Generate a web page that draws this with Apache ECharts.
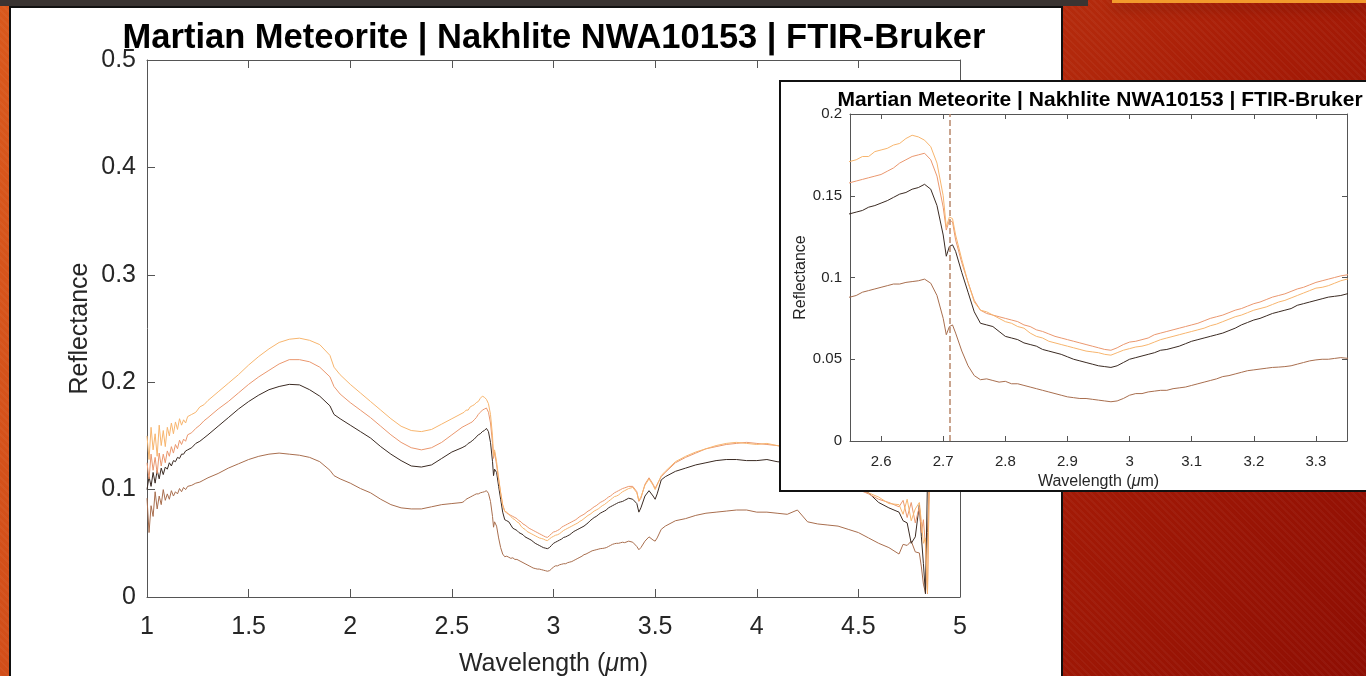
<!DOCTYPE html>
<html>
<head>
<meta charset="utf-8">
<title>Martian Meteorite | Nakhlite NWA10153 | FTIR-Bruker</title>
<script src="https://cdn.jsdelivr.net/npm/echarts@6/dist/echarts.min.js"></script>
<style>
  html, body { margin: 0; padding: 0; width: 1366px; height: 676px; overflow: hidden; }
  #slide {
    position: relative; width: 1366px; height: 676px; overflow: hidden;
    background:
      repeating-linear-gradient(45deg, rgba(255,255,255,0.035) 0 2px, rgba(0,0,0,0) 2px 5px),
      linear-gradient(120deg, #d9581c 0%, #cc4617 40%, #a81d07 72%, #8e0e03 100%);
  }
  .topbar { position: absolute; left: 0; top: 0; width: 1088px; height: 6px; background: #3a3432; }
  .toptab { position: absolute; left: 1112px; top: 0; width: 254px; height: 3px; background: #f29a2c;
            box-shadow: 0 5px 12px rgba(0,0,0,0.35); }
  .panel { position: absolute; left: 9px; top: 6px; width: 1054px; height: 690px; background: #fff;
           border: 2px solid #111; box-sizing: border-box; }
  #main { position: absolute; left: 0; top: 0; width: 1366px; height: 676px; }
  .inset-box { position: absolute; left: 779px; top: 80px; width: 600px; height: 412px; background: #fff;
               border: 2px solid #111; box-sizing: border-box; }
  #inset { position: absolute; left: 0; top: 0; width: 596px; height: 408px; }
</style>
</head>
<body>
<div id="slide">
  <div class="topbar"></div>
  <div class="toptab"></div>
  <div class="panel"></div>
  <div id="main"></div>
  <div class="inset-box"><div id="inset"></div></div>
</div>
<script>
// wavelength grid (um) - finer around the 2.7 um feature shown in the zoom
const wavelength = [
  1.00, 1.01, 1.02, 1.03, 1.04, 1.05, 1.06, 1.07, 1.08, 1.09, 1.10,
  1.11, 1.12, 1.13, 1.14, 1.15, 1.16, 1.17, 1.18, 1.19, 1.20,
  1.22, 1.24, 1.26, 1.28, 1.30,
  1.35, 1.40, 1.45, 1.50, 1.55, 1.60, 1.65, 1.70, 1.75, 1.80,
  1.85, 1.90, 1.92, 1.95, 2.00, 2.05, 2.10, 2.15, 2.20, 2.25,
  2.30, 2.35, 2.40, 2.45, 2.50, 2.55,
  2.56, 2.57, 2.58, 2.59, 2.60, 2.61, 2.62, 2.63, 2.64, 2.65,
  2.66, 2.67, 2.68, 2.69, 2.70, 2.705, 2.71, 2.715, 2.72, 2.73,
  2.74, 2.75, 2.76, 2.77, 2.78, 2.79, 2.80, 2.81, 2.82, 2.83,
  2.84, 2.85, 2.86, 2.87, 2.88, 2.89, 2.90, 2.91, 2.92, 2.93,
  2.94, 2.95, 2.96, 2.97, 2.98, 2.99, 3.00, 3.01, 3.02, 3.03,
  3.04, 3.05, 3.06, 3.07, 3.08, 3.09, 3.10, 3.11, 3.12, 3.13,
  3.14, 3.15, 3.16, 3.17, 3.18, 3.19, 3.20, 3.21, 3.22, 3.23,
  3.24, 3.25, 3.26, 3.27, 3.28, 3.29, 3.30, 3.31, 3.32, 3.33,
  3.34, 3.35,
  3.37, 3.39, 3.41, 3.42, 3.43, 3.45, 3.47, 3.49, 3.50, 3.51,
  3.53, 3.55, 3.60, 3.65, 3.70, 3.75, 3.80, 3.85, 3.90, 3.95,
  4.00, 4.05, 4.10, 4.15, 4.20, 4.25, 4.30, 4.35, 4.40, 4.45,
  4.50, 4.55, 4.60, 4.65, 4.70, 4.72, 4.74, 4.76, 4.78, 4.80,
  4.81, 4.82, 4.83, 4.84, 4.85
]

// reflectance spectra
const spotPeach = [
  0.150, 0.128, 0.158, 0.137, 0.152, 0.131, 0.160, 0.141, 0.155, 0.140, 0.158,
  0.150, 0.162, 0.152, 0.163, 0.156, 0.166, 0.160, 0.165, 0.162, 0.168,
  0.170, 0.172, 0.177, 0.179, 0.183,
  0.191, 0.199, 0.207, 0.216, 0.224, 0.231, 0.237, 0.240, 0.241, 0.239,
  0.235, 0.225, 0.214, 0.207, 0.198, 0.190, 0.182, 0.174, 0.166, 0.159,
  0.155, 0.154, 0.156, 0.161, 0.166, 0.171,
  0.172, 0.174, 0.174, 0.177, 0.178, 0.179, 0.181, 0.182, 0.185, 0.187,
  0.186, 0.184, 0.180, 0.170, 0.150, 0.131, 0.137, 0.136, 0.126, 0.111,
  0.097, 0.085, 0.080, 0.079, 0.077, 0.075, 0.073, 0.072, 0.070, 0.069,
  0.066, 0.064, 0.063, 0.061, 0.060, 0.059, 0.058, 0.057, 0.056, 0.055,
  0.0545, 0.054, 0.053, 0.0525, 0.054, 0.0555, 0.0565, 0.0575, 0.058, 0.059,
  0.0605, 0.062, 0.063, 0.064, 0.065, 0.066, 0.067, 0.068, 0.069, 0.0705,
  0.0715, 0.073, 0.0745, 0.076, 0.077, 0.0785, 0.080, 0.081, 0.082, 0.0835,
  0.085, 0.086, 0.0875, 0.089, 0.0905, 0.092, 0.0935, 0.094, 0.095, 0.0965,
  0.098, 0.099,
  0.101, 0.102, 0.097, 0.090, 0.093, 0.104, 0.110, 0.104, 0.100, 0.104,
  0.113, 0.117, 0.126, 0.131, 0.135, 0.138, 0.141, 0.143, 0.144, 0.143,
  0.142, 0.143, 0.141, 0.140, 0.137, 0.133, 0.128, 0.122, 0.115, 0.108,
  0.102, 0.097, 0.093, 0.087, 0.086, 0.077, 0.091, 0.071, 0.082, 0.088,
  0.070, 0.050, 0.055, 0.004, 0.120
]
const spotSalmon = [
  0.125, 0.110, 0.133, 0.118, 0.130, 0.115, 0.134, 0.122, 0.133, 0.125, 0.136,
  0.131, 0.140, 0.134, 0.142, 0.138, 0.146, 0.142, 0.147, 0.145, 0.151,
  0.153, 0.157, 0.160, 0.164, 0.167,
  0.175, 0.182, 0.190, 0.198, 0.205, 0.211, 0.217, 0.221, 0.221, 0.219,
  0.214, 0.205, 0.196, 0.189, 0.181, 0.174, 0.167, 0.159, 0.151, 0.144,
  0.139, 0.137, 0.139, 0.144, 0.151, 0.158,
  0.159, 0.160, 0.161, 0.162, 0.163, 0.165, 0.167, 0.170, 0.172, 0.174,
  0.175, 0.176, 0.172, 0.162, 0.143, 0.129, 0.135, 0.134, 0.123, 0.109,
  0.097, 0.086, 0.080, 0.078, 0.077, 0.076, 0.075, 0.074, 0.073, 0.071,
  0.070, 0.068, 0.067, 0.0655, 0.064, 0.063, 0.062, 0.061, 0.060, 0.059,
  0.058, 0.057, 0.056, 0.0555, 0.057, 0.059, 0.0605, 0.061, 0.062, 0.063,
  0.065, 0.066, 0.067, 0.068, 0.069, 0.070, 0.071, 0.072, 0.0735, 0.075,
  0.076, 0.077, 0.0785, 0.080, 0.081, 0.0825, 0.084, 0.085, 0.0865, 0.088,
  0.089, 0.090, 0.0915, 0.093, 0.094, 0.0955, 0.097, 0.098, 0.099, 0.100,
  0.101, 0.1016,
  0.103, 0.103, 0.098, 0.089, 0.092, 0.105, 0.111, 0.105, 0.101, 0.105,
  0.112, 0.116, 0.125, 0.130, 0.134, 0.138, 0.140, 0.142, 0.143, 0.144,
  0.143, 0.142, 0.141, 0.139, 0.136, 0.132, 0.127, 0.121, 0.114, 0.107,
  0.100, 0.096, 0.091, 0.088, 0.084, 0.090, 0.074, 0.088, 0.069, 0.084,
  0.060, 0.072, 0.048, 0.003, 0.120
]
const spotDark = [
  0.100, 0.112, 0.103, 0.116, 0.106, 0.118, 0.110, 0.120, 0.114, 0.121, 0.119,
  0.125, 0.122, 0.127, 0.126, 0.130, 0.129, 0.133, 0.133, 0.136, 0.137,
  0.139, 0.143, 0.145, 0.148, 0.151,
  0.159, 0.167, 0.175, 0.182, 0.188, 0.193, 0.196, 0.198, 0.1975, 0.193,
  0.187, 0.178, 0.170, 0.166, 0.160, 0.154, 0.148, 0.140, 0.133, 0.127,
  0.122, 0.121, 0.123, 0.129, 0.135, 0.139,
  0.140, 0.141, 0.143, 0.144, 0.1455, 0.147, 0.149, 0.151, 0.152, 0.154,
  0.155, 0.157, 0.154, 0.144, 0.126, 0.113, 0.119, 0.120, 0.116, 0.103,
  0.091, 0.079, 0.072, 0.071, 0.070, 0.067, 0.064, 0.063, 0.062, 0.060,
  0.059, 0.058, 0.056, 0.055, 0.054, 0.053, 0.0515, 0.050, 0.049, 0.048,
  0.047, 0.046, 0.0455, 0.045, 0.046, 0.048, 0.050, 0.051, 0.052, 0.053,
  0.054, 0.0555, 0.056, 0.057, 0.058, 0.0595, 0.061, 0.062, 0.063, 0.064,
  0.065, 0.066, 0.0675, 0.069, 0.071, 0.0725, 0.074, 0.075, 0.0765, 0.078,
  0.079, 0.080, 0.081, 0.083, 0.084, 0.085, 0.086, 0.087, 0.088, 0.0885,
  0.089, 0.090,
  0.092, 0.091, 0.087, 0.079, 0.083, 0.094, 0.099, 0.094, 0.091, 0.096,
  0.109, 0.112, 0.117, 0.120, 0.123, 0.125, 0.127, 0.128, 0.128, 0.127,
  0.127, 0.128, 0.126, 0.125, 0.123, 0.120, 0.117, 0.113, 0.108, 0.104,
  0.101, 0.097, 0.088, 0.083, 0.079, 0.071, 0.069, 0.050, 0.056, 0.086,
  0.056, 0.031, 0.003, 0.110, 0.130
]
const spotBrown = [
  0.092, 0.060, 0.085, 0.075, 0.098, 0.082, 0.094, 0.086, 0.100, 0.090, 0.096,
  0.091, 0.099, 0.094, 0.098, 0.096, 0.101, 0.098, 0.102, 0.100, 0.103,
  0.104, 0.106, 0.107, 0.109, 0.111,
  0.115, 0.120, 0.124, 0.128, 0.131, 0.133, 0.134, 0.133, 0.132, 0.130,
  0.126, 0.118, 0.113, 0.110, 0.106, 0.101, 0.097, 0.091, 0.086, 0.083,
  0.082, 0.082, 0.084, 0.086, 0.087, 0.088,
  0.089, 0.091, 0.092, 0.093, 0.094, 0.095, 0.096, 0.096, 0.097, 0.0975,
  0.098, 0.099, 0.0965, 0.089, 0.075, 0.065, 0.070, 0.071, 0.066, 0.055,
  0.046, 0.040, 0.0375, 0.038, 0.037, 0.036, 0.0365, 0.035, 0.035, 0.034,
  0.033, 0.032, 0.031, 0.030, 0.029, 0.028, 0.027, 0.0265, 0.026, 0.026,
  0.0255, 0.025, 0.0245, 0.024, 0.0245, 0.026, 0.028, 0.029, 0.029, 0.030,
  0.0305, 0.031, 0.031, 0.032, 0.0325, 0.033, 0.034, 0.035, 0.036, 0.037,
  0.038, 0.0394, 0.040, 0.041, 0.042, 0.043, 0.0435, 0.044, 0.0445, 0.045,
  0.0452, 0.0455, 0.046, 0.047, 0.048, 0.049, 0.0496, 0.050, 0.050, 0.0505,
  0.051, 0.0506,
  0.052, 0.051, 0.047, 0.044, 0.046, 0.052, 0.056, 0.053, 0.052, 0.055,
  0.063, 0.066, 0.071, 0.073, 0.076, 0.078, 0.079, 0.080, 0.081, 0.081,
  0.079, 0.079, 0.078, 0.077, 0.081, 0.070, 0.068, 0.067, 0.066, 0.063,
  0.060, 0.055, 0.050, 0.046, 0.040, 0.049, 0.048, 0.052, 0.042, 0.041,
  0.028, 0.012, 0.004, 0.060, 0.110
]

const spots = [
  { name: 'Spot 4', values: spotBrown, color: '#a86e4e' },
  { name: 'Spot 3', values: spotDark, color: '#3a2a22' },
  { name: 'Spot 2', values: spotSalmon, color: '#ea976e' },
  { name: 'Spot 1', values: spotPeach, color: '#f7b56e' }
]

const titleText = 'Martian Meteorite | Nakhlite NWA10153 | FTIR-Bruker'
const insetXTicks = [2.6, 2.7, 2.8, 2.9, 3.0, 3.1, 3.2, 3.3]
const dashWavelength = 2.705

const fontFamily = '"Liberation Sans", Arial, Helvetica, sans-serif'
const axisColor = '#555'
const labelColor = '#262626'

function pairs (values) {
  return wavelength.map((w, i) => [w, values[i]])
}

// MATLAB-like box: labelled bottom/left axes plus mirrored top/right ones
function boxAxis (position, cfg) {
  const mirror = position === 'top' || position === 'right'
  const axis = {
    type: 'value',
    position: position,
    min: cfg.min,
    max: cfg.max,
    axisLine: { show: true, onZero: false, lineStyle: { color: axisColor, width: 1 } },
    axisTick: { show: true, inside: true, length: cfg.tickLen, lineStyle: { color: axisColor } },
    axisLabel: {
      show: !mirror, margin: cfg.margin, color: labelColor,
      fontSize: cfg.fontSize, fontFamily: fontFamily
    },
    splitLine: { show: false }
  }
  if (cfg.interval) axis.interval = cfg.interval
  if (cfg.ticks) {
    axis.axisTick.customValues = cfg.ticks
    axis.axisLabel.customValues = cfg.ticks
  }
  if (!mirror) {
    axis.name = cfg.name
    axis.nameLocation = 'middle'
    axis.nameGap = cfg.nameGap
    axis.nameMoveOverlap = false
    axis.nameTextStyle = {
      color: labelColor, fontSize: cfg.nameSize, fontFamily: fontFamily,
      rich: {
        n: { color: labelColor, fontSize: cfg.nameSize, fontFamily: fontFamily },
        i: { color: labelColor, fontSize: cfg.nameSize, fontFamily: fontFamily, fontStyle: 'italic' }
      }
    }
  }
  return axis
}

function lineSeries (extra) {
  return spots.map((s, idx) => Object.assign({
    name: s.name,
    type: 'line',
    data: pairs(s.values),
    showSymbol: false,
    silent: true,
    lineStyle: { color: s.color, width: 1 },
    itemStyle: { color: s.color }
  }, idx === 0 ? extra : {}))
}

const xName = '{n|Wavelength (}{i|μ}{n|m)}'

// main figure
const mainChart = echarts.init(document.getElementById('main'), null, { renderer: 'canvas' })
const mainX = { min: 1, max: 5, interval: 0.5, tickLen: 8, margin: 18, fontSize: 25, name: xName, nameGap: 55, nameSize: 25 }
const mainY = { min: 0, max: 0.5, interval: 0.1, tickLen: 8, margin: 11, fontSize: 25, name: 'Reflectance', nameGap: 54, nameSize: 25 }
mainChart.setOption({
  animation: false,
  backgroundColor: 'transparent',
  title: {
    text: titleText, left: 549, top: 16, textAlign: 'center',
    textStyle: { fontSize: 34.5, fontWeight: 'bold', color: '#000', fontFamily: fontFamily }
  },
  grid: { left: 147, top: 60, width: 813, height: 537, outerBoundsMode: 'none' },
  xAxis: [boxAxis('bottom', mainX), boxAxis('top', mainX)],
  yAxis: [boxAxis('left', mainY), boxAxis('right', mainY)],
  series: lineSeries({})
})

// zoomed inset around the 2.7 um band
const insetChart = echarts.init(document.getElementById('inset'), null, { renderer: 'canvas' })
const insetX = { min: 2.55, max: 3.35, ticks: insetXTicks, tickLen: 5, margin: 13, fontSize: 15, name: xName, nameGap: 33, nameSize: 16 }
const insetY = { min: 0, max: 0.2, interval: 0.05, tickLen: 5, margin: 8, fontSize: 15, name: 'Reflectance', nameGap: 41, nameSize: 16 }
insetChart.setOption({
  animation: false,
  backgroundColor: 'transparent',
  title: {
    text: titleText, left: 314, top: 3, textAlign: 'center',
    textStyle: { fontSize: 21, fontWeight: 'bold', color: '#000', fontFamily: fontFamily }
  },
  grid: { left: 69, top: 32, width: 497, height: 327, outerBoundsMode: 'none' },
  xAxis: [boxAxis('bottom', insetX), boxAxis('top', insetX)],
  yAxis: [boxAxis('left', insetY), boxAxis('right', insetY)],
  series: lineSeries({
    markLine: {
      silent: true,
      symbol: 'none',
      label: { show: false },
      lineStyle: { color: '#b8876a', type: 'dashed', width: 1.5 },
      data: [{ xAxis: dashWavelength }]
    }
  })
})
</script>
</body>
</html>
